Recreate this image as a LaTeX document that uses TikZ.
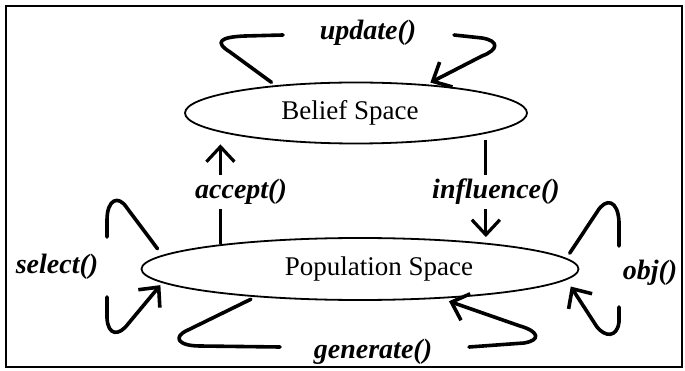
\documentclass[tikz,border=0pt]{standalone}
\usepackage{fontspec}
\setmainfont{Liberation Serif}
\usetikzlibrary{arrows.meta}
\usetikzlibrary{shapes.geometric}

\begin{document}
\begin{tikzpicture}[x=1pt,y=-1pt,
 space/.style={draw,ellipse,line width=1.8pt,inner sep=0pt,font=\fontsize{27}{30}\selectfont},
 call/.style={font=\fontsize{28}{30}\selectfont\bfseries\itshape,inner sep=4pt},
 curl/.style={line width=3.6pt,line cap=round,line join=round},
 stem/.style={line width=3.2pt},
 >={Straight Barb[length=15pt,width=28pt]}]
\useasboundingbox (0,0) rectangle (685,371);
\draw [line width=1.8pt] (6,6) rectangle (682,367);
\node [space,minimum width=342pt,minimum height=61pt] (Bel) at (356,113) {\hspace*{-12pt}Belief Space};
\node [space,minimum width=437pt,minimum height=62pt] (Pop) at (360,269) {\hspace*{38pt}Population Space};
\node [call] (Upd) at (368,33) {update()};
\node [call] (Acc) at (241,192) {accept()};
\node [call] (Inf) at (496,192) {influence()};
\node [call] (Sel) at (57,267) {select()};
\node [call] (Obj) at (650,273) {obj()};
\node [call] (Gen) at (373,352) {generate()};
\coordinate (U1) at (283,35);
\coordinate (U2) at (454,35);
\coordinate (S1) at (107,237);
\coordinate (S2) at (107,297);
\coordinate (O1) at (619,246);
\coordinate (O2) at (619,307);
\coordinate (G1) at (280,347);
\coordinate (G2) at (469,347);
% update()
\draw [curl,shorten <=5pt] (Bel.161) -- (230,52) .. controls (214,42) and (220,37) .. (245,36) -- (U1);
\draw [curl,->,shorten >=4pt] (U2) -- (482,38) .. controls (500,41) and (498,50) .. (482,56) -- (Bel.22);
% accept() and influence()
\draw [stem] (Pop.170) -- (Pop.170 |- Acc.south);
\draw [stem,->] (Pop.170 |- Acc.north) -- (Pop.170 |- Bel.south);
\draw [stem,shorten <=6pt] (Bel.351) -- (Bel.351 |- Inf.north);
\draw [stem,->] (Bel.351 |- Inf.south) -- (Bel.351 |- Pop.north);
% select()
\draw [curl,shorten <=8pt] (Pop.176) -- (127,208) .. controls (118,194) and (107,200) .. (107,220) -- (S1);
\draw [curl,->,shorten >=3pt] (S2) -- (107,318) .. controls (108,336) and (119,336) .. (128,324) -- (Pop.184);
% obj()
\draw [curl,shorten <=6pt] (Pop.3) -- (597,212) .. controls (606,197) and (618,200) .. (619,222) -- (O1);
\draw [curl,->,shorten >=8pt] (O2) -- (619,322) .. controls (617,338) and (605,337) .. (597,327) -- (Pop.357);
% generate()
\draw [curl,shorten <=5pt] (Pop.195) -- (188,330) .. controls (172,337) and (178,346) .. (200,346) -- (G1);
\draw [curl,->,shorten >=8pt] (G2) -- (524,343) .. controls (542,340) and (538,331) .. (520,326) -- (Pop.340);
\end{tikzpicture}
\end{document}
